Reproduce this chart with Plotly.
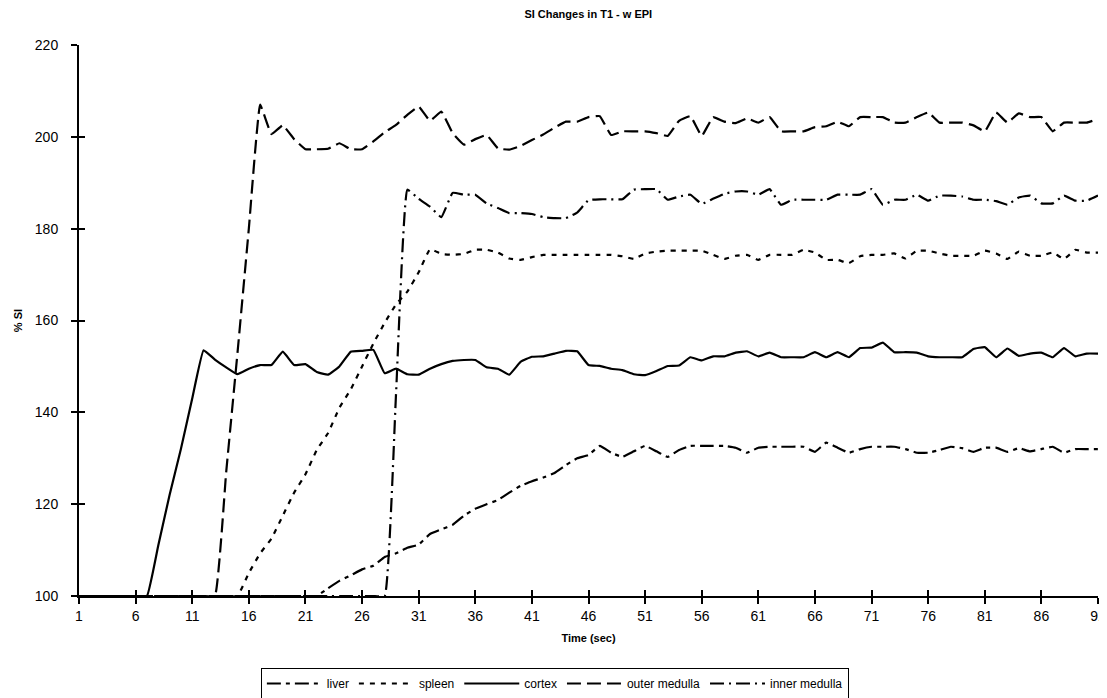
import plotly.graph_objects as go

time_sec = list(range(1, 92))

liver = [100]*22 + [
    101.7, 103.3, 104.5, 105.8, 106.6, 108.5, 109.3, 110.5, 111.2, 113.5,
    114.5, 115.5, 117.5, 119.0, 120.0, 120.9, 122.5, 124.0, 125.0, 125.8,
    126.8, 128.5, 130.0, 130.7, 132.7, 131.2, 130.3, 131.5, 132.7, 131.5,
    130.3, 131.8, 132.7, 132.7, 132.7, 132.7, 132.3, 131.2, 132.3, 132.5,
    132.5, 132.5, 132.5, 131.4, 133.4, 132.3, 131.2, 132.0, 132.5, 132.5,
    132.5, 132.0, 131.2, 131.2, 131.8, 132.5, 132.2, 131.4, 132.3, 132.3,
    131.4, 132.2, 131.5, 132.0, 132.5, 131.2, 132.0, 132.0, 132.0]

spleen = [100]*15 + [
    105.0, 109.3, 112.5, 117.5, 122.5, 126.5, 131.8, 135.5, 141.0, 145.0,
    150.0, 155.0, 159.5, 163.5, 166.3, 170.5, 175.5, 174.5, 174.3, 174.5,
    175.4, 175.4, 174.8, 173.5, 173.2, 173.8, 174.3, 174.3, 174.3, 174.3,
    174.3, 174.3, 174.3, 174.0, 173.4, 174.6, 175.0, 175.2, 175.2, 175.2,
    175.2, 174.3, 173.4, 174.1, 174.3, 173.2, 174.3, 174.3, 174.3, 175.4,
    174.8, 173.2, 173.2, 172.5, 174.0, 174.3, 174.3, 174.6, 173.5, 175.2,
    175.2, 174.6, 174.1, 174.1, 174.1, 175.2, 174.6, 173.4, 175.0, 174.1,
    174.1, 174.8, 173.4, 175.4, 174.8, 174.8]

cortex = [100]*7 + [
    111.0, 122.0, 132.0, 143.0, 153.5, 151.5, 149.8, 148.3, 149.5, 150.3,
    150.3, 153.2, 150.3, 150.5, 148.8, 148.2, 150.0, 153.2, 153.4, 153.6,
    148.5, 149.5, 148.3, 148.2, 149.5, 150.5, 151.2, 151.4, 151.4, 149.8,
    149.5, 148.2, 151.0, 152.1, 152.2, 152.8, 153.4, 153.3, 150.3, 150.1,
    149.5, 149.2, 148.3, 148.1, 149.0, 150.1, 150.2, 152.0, 151.3, 152.2,
    152.2, 153.0, 153.3, 152.2, 153.0, 152.0, 152.0, 152.0, 153.1, 152.0,
    153.1, 152.0, 154.0, 154.1, 155.2, 153.1, 153.1, 153.0, 152.2, 152.0,
    152.0, 152.0, 153.8, 154.2, 152.0, 153.9, 152.3, 152.8, 153.0, 152.0,
    154.0, 152.2, 152.8, 152.8]

outer_medulla = [100]*13 + [
    127.0, 153.0, 180.0, 207.0, 200.6, 202.5, 199.5, 197.3, 197.3, 197.4,
    198.6, 197.3, 197.3, 199.0, 201.0, 202.6, 204.8, 206.6, 203.5, 205.5,
    200.8, 198.3, 199.5, 200.4, 197.5, 197.2, 198.0, 199.3, 200.5, 202.0,
    203.3, 203.3, 204.3, 204.5, 200.4, 201.2, 201.2, 201.2, 200.8, 200.2,
    203.5, 204.5, 200.2, 204.3, 203.3, 203.0, 204.0, 203.1, 204.3, 201.2,
    201.2, 201.2, 202.1, 202.3, 203.3, 202.3, 204.3, 204.3, 204.3, 203.1,
    203.1, 204.3, 205.3, 203.1, 203.1, 203.1, 202.5, 201.2, 205.3, 203.1,
    205.1, 204.3, 204.3, 201.2, 203.1, 203.1, 203.1, 203.9]

inner_medulla = [100]*28 + [
    144.0, 188.5, 186.5, 184.8, 182.5, 187.8, 187.4, 187.4, 185.5, 184.5,
    183.4, 183.4, 183.2, 182.5, 182.3, 182.3, 183.5, 186.2, 186.4, 186.4,
    186.4, 188.5, 188.6, 188.6, 186.3, 187.0, 187.4, 185.4, 186.5, 187.6,
    188.1, 188.1, 187.4, 188.6, 185.2, 186.3, 186.3, 186.3, 186.3, 187.4,
    187.4, 187.4, 188.6, 185.2, 186.3, 186.3, 187.4, 186.1, 187.2, 187.2,
    187.0, 186.3, 186.3, 186.0, 185.2, 186.8, 187.2, 185.5, 185.5, 187.2,
    186.1, 186.1, 187.2]

series_names = ["liver", "spleen", "cortex", "outer medulla", "inner medulla"]
series_values = [liver, spleen, cortex, outer_medulla, inner_medulla]
for s in series_values:
    assert len(s) == len(time_sec), len(s)

x_ticks = list(range(1, 92, 5))
y_ticks = list(range(100, 221, 20))

dashes = ["14px,5px,4px,5px", "5px,6px", "solid", "14px,6px", "14px,5px,2px,5px"]

FONT = "Liberation Sans, Arial, Helvetica, sans-serif"

fig = go.Figure()
for name, vals, d in zip(series_names, series_values, dashes):
    fig.add_trace(go.Scatter(
        x=time_sec, y=vals, name=name, mode="lines",
        line=dict(color="black", width=2.2, dash=d, shape="spline", smoothing=0.3),
    ))

# invisible trace to host overlay axes for crossing ticks
fig.add_trace(go.Scatter(x=[None], y=[None], xaxis="x2", yaxis="y2",
                         showlegend=False, hoverinfo="skip"))

fig.update_layout(
    width=1099, height=690,
    paper_bgcolor="white", plot_bgcolor="white",
    margin=dict(l=71, r=9, t=37, b=102, autoexpand=False),
    font=dict(family=FONT, color="black", size=14),
    title=dict(text="<b>SI Changes in T1 - w EPI</b>", x=0.528, xanchor="center",
               y=0.9905, yanchor="middle", font=dict(size=11, family=FONT)),
    xaxis=dict(range=[1, 91], tickvals=x_ticks, ticktext=[str(v) for v in x_ticks],
               showgrid=False, zeroline=False, showline=True, linecolor="black",
               linewidth=2, ticks="outside", ticklen=6, tickwidth=2, tickcolor="black",
               tickfont=dict(size=14), automargin=False,
               title=dict(text="<b>Time (sec)</b>", font=dict(size=11), standoff=12)),
    yaxis=dict(range=[100, 220], tickvals=y_ticks,
               showgrid=False, zeroline=False, showline=True, linecolor="black",
               linewidth=2, ticks="outside", ticklen=6, tickwidth=2, tickcolor="black",
               tickfont=dict(size=14), automargin=False, ticklabelstandoff=10,
               title=dict(text="<b>% SI</b>", font=dict(size=11), standoff=10)),
    xaxis2=dict(range=[1, 91], overlaying="x", tickvals=x_ticks, showticklabels=False,
                showgrid=False, zeroline=False, showline=False, automargin=False,
                ticks="inside", ticklen=6, tickwidth=2, tickcolor="black", side="bottom"),
    yaxis2=dict(range=[100, 220], overlaying="y", tickvals=y_ticks, showticklabels=False,
                showgrid=False, zeroline=False, showline=False, automargin=False,
                ticks="inside", ticklen=6, tickwidth=2, tickcolor="black", side="left"),
    legend=dict(orientation="h", x=0.467, xanchor="center", y=-0.1307, yanchor="top",
                bordercolor="black", borderwidth=1, bgcolor="white",
                font=dict(size=12), itemwidth=55, tracegroupgap=0),
    showlegend=True,
)

fig.write_html("out.html")
